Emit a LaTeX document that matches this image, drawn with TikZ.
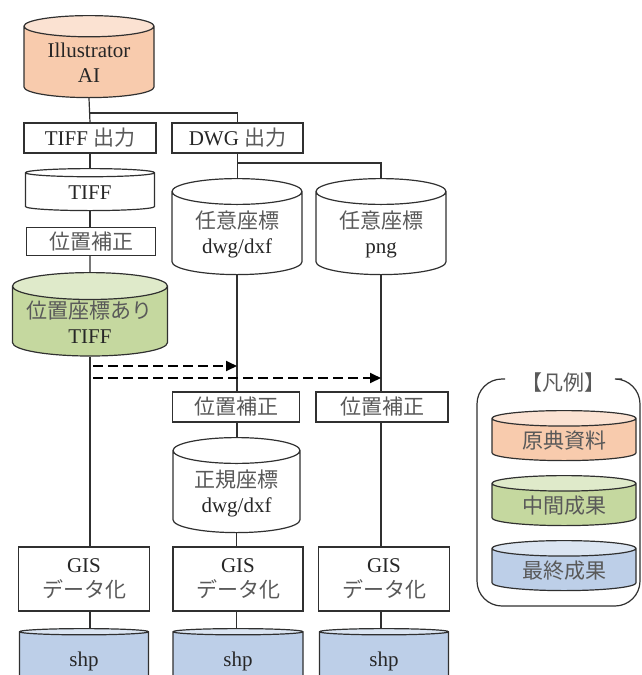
\documentclass[tikz,border=0pt]{standalone}
\usepackage{fontspec}
\setmainfont{Liberation Serif}
\newfontfamily\jp{Noto Sans CJK JP}
\usetikzlibrary{shapes.geometric, arrows.meta, positioning}
\definecolor{cLine}{HTML}{303030}
\definecolor{cOrange}{HTML}{F8CBAD}
\definecolor{cGreen}{HTML}{C5D89F}
\definecolor{cBlue}{HTML}{BDCFE8}
\newcommand{\ja}[1]{{\jp\color{black!65}#1}}

\begin{document}
\begin{tikzpicture}[x=1pt, y=-1pt,
  txt/.style={font=\fontsize{21}{25}\selectfont, text=black!85, align=center},
  box/.style={txt, draw=cLine, line width=1.2pt, fill=white,
    minimum width=#1, minimum height=30pt, inner sep=1pt},
  box/.default=130pt,
  db/.style={txt, cylinder, shape border rotate=90, draw=cLine, line width=1.2pt,
    cylinder uses custom fill, cylinder body fill=#1,
    cylinder end fill=#1!55!white, inner sep=1pt, anchor=north},
  db/.default=white,
  link/.style={draw=cLine, line width=1.2pt},
  ref/.style={draw=black, line width=1.8pt, dash pattern=on 10pt off 5pt,
    -{Triangle[length=11pt, width=10pt]}}
]
  \useasboundingbox (0,0) rectangle (641,675);
  \clip (0,0) rectangle (641,675);

  % column 1 (cylinders placed by their top)
  \node[db=cOrange, minimum width=130pt, minimum height=82pt, aspect=0.25] (ai) at (89,15) {Illustrator\\AI};
  \node[box=132pt] (tiffout) at (90,138) {TIFF \ja{出力}};
  \node[db, minimum width=129pt, minimum height=42pt, aspect=0.18] (tiff) at (90,168) {TIFF};
  \node[box=129pt, minimum height=28pt] (fix1) at (91,241.5) {\ja{位置補正}};
  \node[db=cGreen, minimum width=155pt, minimum height=83pt, aspect=0.21] (geotiff) at (90,272) {\ja{位置座標あり}\\TIFF};
  \node[box=131pt, minimum height=64pt] (gis1) at (84,579) {GIS\\\ja{データ化}};
  \node[db=cBlue, minimum width=129pt, minimum height=62pt, aspect=0.2] (shp1) at (84,628) {shp};

  % column 2
  \node[box=131pt] (dwgout) at (237.5,138) {DWG \ja{出力}};
  \node[db, minimum width=130pt, minimum height=96pt, aspect=0.3] (dwg1) at (237,178) {\ja{任意座標}\\dwg/dxf};
  \node[box=127pt] (fix2) at (236,407) {\ja{位置補正}};
  \node[db, minimum width=127pt, minimum height=95pt, aspect=0.3] (dwg2) at (236.5,437) {\ja{正規座標}\\dwg/dxf};
  \node[box=130pt, minimum height=64pt] (gis2) at (238,579) {GIS\\\ja{データ化}};
  \node[db=cBlue, minimum width=130pt, minimum height=62pt, aspect=0.2] (shp2) at (238,628) {shp};

  % column 3
  \node[db, minimum width=130pt, minimum height=96pt, aspect=0.3] (png1) at (381,178) {\ja{任意座標}\\png};
  \node[box=132pt] (fix3) at (382,407) {\ja{位置補正}};
  \node[box=131pt, minimum height=64pt] (gis3) at (384,579) {GIS\\\ja{データ化}};
  \node[db=cBlue, minimum width=129pt, minimum height=62pt, aspect=0.2] (shp3) at (384,628) {shp};

  % connectors
  \coordinate (br1) at (90,113);
  \coordinate (br2) at (237,163);
  \draw[link] (ai.south) -- (tiffout.north);
  \draw[link] (br1) -| (dwgout.north);
  \draw[link] (tiffout.south) -- (tiffout.south |- tiff.north);
  \draw[link] (tiff.south) -- (tiff.south |- fix1.north);
  \draw[link] (fix1.south -| tiff.south) -- (geotiff.north);
  \draw[link] (geotiff.south) -- (geotiff.south |- gis1.north);
  \draw[link] (gis1.south -| geotiff.south) -- (geotiff.south |- shp1.north);
  \draw[link] (dwgout.south) -- (dwgout.south |- dwg1.north);
  \draw[link] (br2) -| (png1.north);
  \draw[link] (dwg1.south) -- (dwg1.south |- fix2.north);
  \draw[link] (fix2.south -| dwg1.south) -- (dwg1.south |- dwg2.north);
  \draw[link] (dwg2.south) -- (dwg2.south |- gis2.north);
  \draw[link] (gis2.south -| dwg2.south) -- (dwg2.south |- shp2.north);
  \draw[link] (png1.south) -- (png1.south |- fix3.north);
  \draw[link] (fix3.south -| png1.south) -- (png1.south |- gis3.north);
  \draw[link] (gis3.south -| png1.south) -- (png1.south |- shp3.north);

  % georeference hints
  \coordinate (d1) at (93,366);
  \coordinate (d2) at (93,378);
  \draw[ref] (d1) -- (d1 -| dwg1.south);
  \draw[ref] (d2) -- (d2 -| png1.south);

  % legend
  \draw[link, rounded corners=25pt] (505,379) -- (477,379) -- (477,606)
    -- (640,606) -- (640,379) -- (622,379);
  \node[txt] (legtitle) at (563,383) {\ja{【凡例】}};
  \node[db=cOrange, minimum width=144pt, minimum height=50pt, aspect=0.18] (leg1) at (564,410) {\ja{原典資料}};
  \node[db=cGreen, minimum width=144pt, minimum height=50pt, aspect=0.18] (leg2) at (564,475) {\ja{中間成果}};
  \node[db=cBlue, minimum width=144pt, minimum height=50pt, aspect=0.18] (leg3) at (564,540) {\ja{最終成果}};
\end{tikzpicture}
\end{document}
